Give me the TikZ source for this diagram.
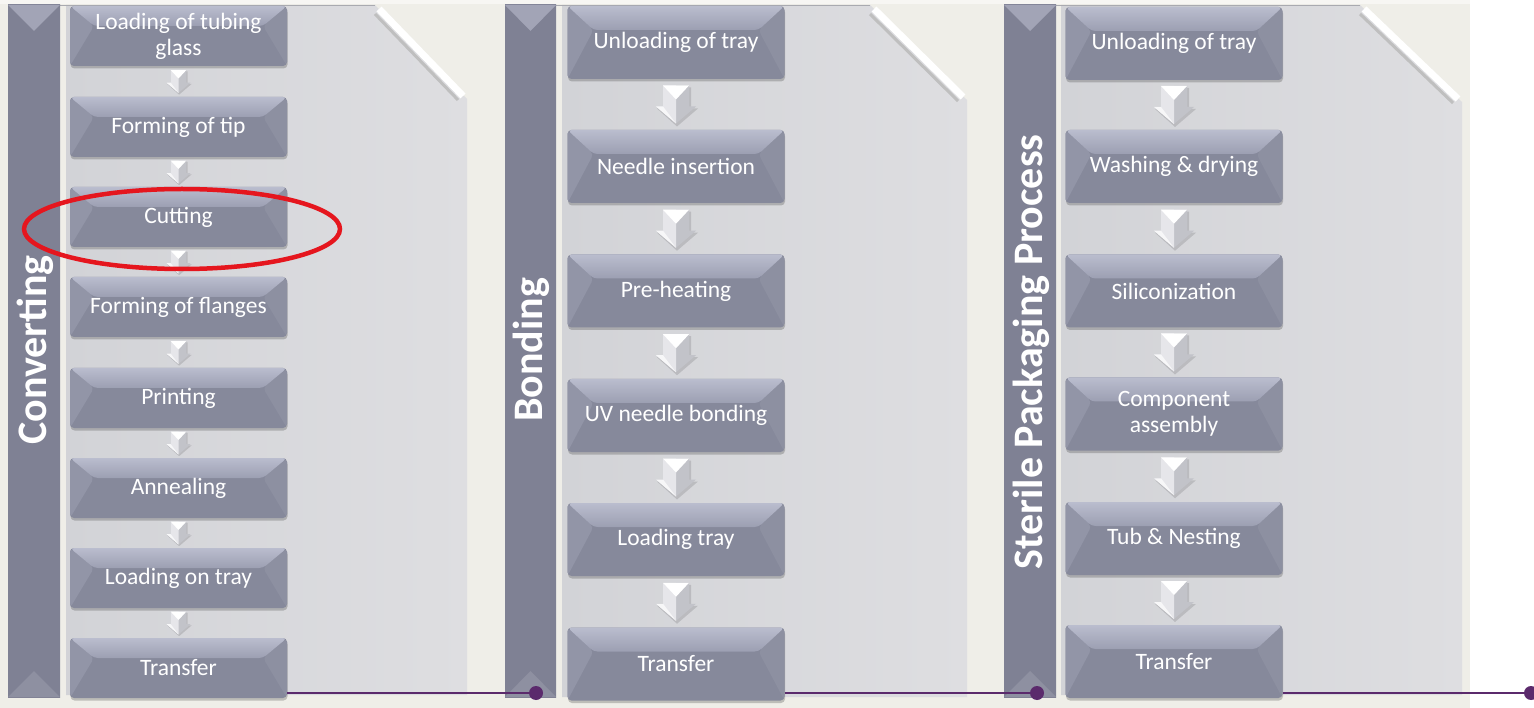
\documentclass[tikz,border=0pt]{standalone}
\usepackage{fontspec}
\setmainfont{Carlito}
\usetikzlibrary{calc,shadows}

\definecolor{boxmain}{HTML}{86899B}
\definecolor{boxtop}{HTML}{9C9FB2}
\definecolor{boxtoplt}{HTML}{BABDCE}
\definecolor{boxleft}{HTML}{9295A7}
\definecolor{boxright}{HTML}{8D90A1}
\definecolor{barmain}{HTML}{7F8194}
\definecolor{barlight}{HTML}{9395A7}
\definecolor{barcap}{HTML}{A2A4B6}
\definecolor{panelgray}{HTML}{D2D3D7}
\definecolor{panellight}{HTML}{DEDEE1}
\definecolor{paneledge}{HTML}{A9AAB0}
\definecolor{slidebg}{HTML}{EFEEE8}
\definecolor{timeline}{HTML}{5B2A6C}
\definecolor{markred}{HTML}{E5161E}
\definecolor{arrowshade}{HTML}{C2C3C9}
\definecolor{arrowlight}{HTML}{E6E6EA}

\tikzset{
  % bevelled step box; #1 = horizontal depth, #2 = vertical depth of the bevel
  bevel/.style 2 args={path picture={
      \fill[boxleft] (path picture bounding box.north west)
        -- ([shift={(#1,#2)}]path picture bounding box.north west)
        -- (path picture bounding box.south west) -- cycle;
      \fill[boxright] (path picture bounding box.north east)
        -- ([shift={(-#1,#2)}]path picture bounding box.north east)
        -- (path picture bounding box.south east) -- cycle;
      \shade[top color=boxtoplt, bottom color=boxtop]
        (path picture bounding box.north west)
        -- (path picture bounding box.north east)
        -- ([shift={(-#1,#2)}]path picture bounding box.north east)
        -- ([shift={(#1,#2)}]path picture bounding box.north west) -- cycle;
  }},
  stepbox/.style={fill=boxmain, rounded corners=4pt, minimum width=217pt,
    inner sep=0pt, align=center, text=white,
    font=\fontsize{23.5}{26}\selectfont,
    drop shadow={shadow xshift=0.5pt, shadow yshift=-2.5pt, opacity=0.3, fill=black!70}},
  shortbox/.style={stepbox, minimum height=60pt, bevel={24}{20}},
  tallbox/.style={stepbox, minimum height=73pt, bevel={26}{24}},
  titlebar/.style={shading=axis, left color=barmain, middle color=barlight,
    right color=barmain, minimum height=692pt, inner sep=0pt,
    path picture={
      \fill[barcap] (path picture bounding box.north west)
        -- (path picture bounding box.north east)
        -- ($(path picture bounding box.north)+(0,26)$) -- cycle;
      \fill[white, opacity=0.12] (path picture bounding box.south west)
        -- (path picture bounding box.south east)
        -- ($(path picture bounding box.south)+(0,-26)$) -- cycle;
  }},
  titletext/.style={rotate=90, text=white, inner sep=0pt,
    font=\fontsize{42}{44}\selectfont\bfseries},
  paneledge/.style={draw=paneledge, line width=0.8pt},
  timeline/.style={draw=timeline, line width=2.2pt},
  tldot/.style={circle, fill=timeline, minimum size=14pt, inner sep=0pt},
}

% 3-D block arrow half way between two stacked steps
\newcommand\flowarrow[3]{%
  \begin{scope}[shift={($(#1.south)!0.5!(#2.north)$)}, scale=#3]
    \fill[black, opacity=0.12] (-12,-17) -- (15,-17) -- (15,4) -- (22,4) -- (1,22) -- (-19,4) -- (-12,4) -- cycle;
    \fill[arrowshade] (-13,-19) -- (13,-19) -- (13,2) -- (20,2) -- (0,19) -- (-20,2) -- (-13,2) -- cycle;
    \fill[arrowlight] (-13,-19) -- (0,-19) -- (0,19) -- (-20,2) -- (-13,2) -- cycle;
    \fill[white] (-13,-19) -- (13,-19) -- (0,-5) -- cycle;
    \fill[white, opacity=0.7] (-20,2) -- (-13,2) -- (0,19) -- cycle;
  \end{scope}}

\begin{document}
\begin{tikzpicture}[x=1pt, y=-1pt]
  \useasboundingbox (0,0) rectangle (1534,708);

  % slide background
  \fill[white] (0,0) rectangle (1534,708);
  \fill[slidebg] (0,0) rectangle (1470,708);
  \fill[white, opacity=0.5] (0,0) rectangle (1470,4);

  % light-grey panels with a cut top-right corner
  \shade[left color=panelgray, right color=panellight]
    (66,5) -- (375,5) -- (467,99) -- (467,695) -- (66,695) -- cycle;
  \shade[left color=panelgray, right color=panellight]
    (562,5) -- (870,5) -- (967,100) -- (967,697) -- (562,697) -- cycle;
  \shade[left color=panelgray, right color=panellight]
    (1061,5) -- (1360,5) -- (1462,102) -- (1462,695) -- (1061,695) -- cycle;
  \draw[paneledge] (60,5) -- (375,5);
  \draw[paneledge] (556,5) -- (870,5);
  \draw[paneledge] (1056,5) -- (1360,5);
  \draw[black!25, line width=3pt] (375,14) -- (458,100);
  \draw[white, line width=7pt] (379,9) -- (463,96);
  \draw[black!25, line width=3pt] (870,14) -- (958,101);
  \draw[white, line width=7pt] (874,9) -- (963,97);
  \draw[black!25, line width=3pt] (1360,14) -- (1453,103);
  \draw[white, line width=7pt] (1364,9) -- (1458,99);

  % title bars
  \node[titlebar, minimum width=52pt] (bar1) at (34,351) {};
  \node[titlebar, minimum width=51pt] (bar2) at (530.5,351) {};
  \node[titlebar, minimum width=52pt] (bar3) at (1030,351) {};
  \node[titletext] (ttl1) at (35,350) {Converting};
  \node[titletext] (ttl2) at (531,350) {Bonding};
  \node[titletext] (ttl3) at (1031,352) {Sterile Packaging Process};

  % Converting
  \node[shortbox] (c1) at (178.5,36)  {Loading of tubing\\glass};
  \node[shortbox] (c2) at (178.5,127) {Forming of tip};
  \node[shortbox] (c3) at (178.5,217) {Cutting};
  \node[shortbox] (c4) at (178.5,307) {Forming of flanges};
  \node[shortbox] (c5) at (178.5,398) {Printing};
  \node[shortbox] (c6) at (178.5,488) {Annealing};
  \node[shortbox] (c7) at (178.5,578) {Loading on tray};
  \node[shortbox] (c8) at (178.5,668) {Transfer};

  % Bonding
  \node[tallbox] (b1) at (676,42.5)  {Unloading of tray};
  \node[tallbox] (b2) at (676,166.5) {Needle insertion};
  \node[tallbox] (b3) at (676,291)   {Pre-heating};
  \node[tallbox] (b4) at (676,415.5) {UV needle bonding};
  \node[tallbox] (b5) at (676,539.5) {Loading tray};
  \node[tallbox] (b6) at (676,664)   {Transfer};

  % Sterile packaging
  \node[tallbox] (s1) at (1174,43.5)  {Unloading of tray};
  \node[tallbox] (s2) at (1174,166.5) {Washing \& drying};
  \node[tallbox] (s3) at (1174,291)   {Siliconization};
  \node[tallbox] (s4) at (1174,414)   {Component\\assembly};
  \node[tallbox] (s5) at (1174,538.5) {Tub \& Nesting};
  \node[tallbox] (s6) at (1174,661.5) {Transfer};

  % flow arrows
  \foreach \a/\b in {c1/c2,c2/c3,c3/c4,c4/c5,c5/c6,c6/c7,c7/c8}
    {\flowarrow{\a}{\b}{0.6}}
  \foreach \a/\b in {b1/b2,b2/b3,b3/b4,b4/b5,b5/b6,s1/s2,s2/s3,s3/s4,s4/s5,s5/s6}
    {\flowarrow{\a}{\b}{1}}

  % time line along the bottom
  \node[tldot] (d1) at (536,693) {};
  \node[tldot] (d2) at (1037,693) {};
  \node[tldot] (d3) at (1531,693) {};
  \draw[timeline] (c8.east |- d1) -- (d1);
  \draw[timeline] (b6.east |- d2) -- (d2);
  \draw[timeline] (s6.east |- d3) -- (d3);

  % red mark around the cutting step
  \draw[markred, line width=4.5pt] (182,229) ellipse [x radius=158pt, y radius=40pt];
\end{tikzpicture}
\end{document}
